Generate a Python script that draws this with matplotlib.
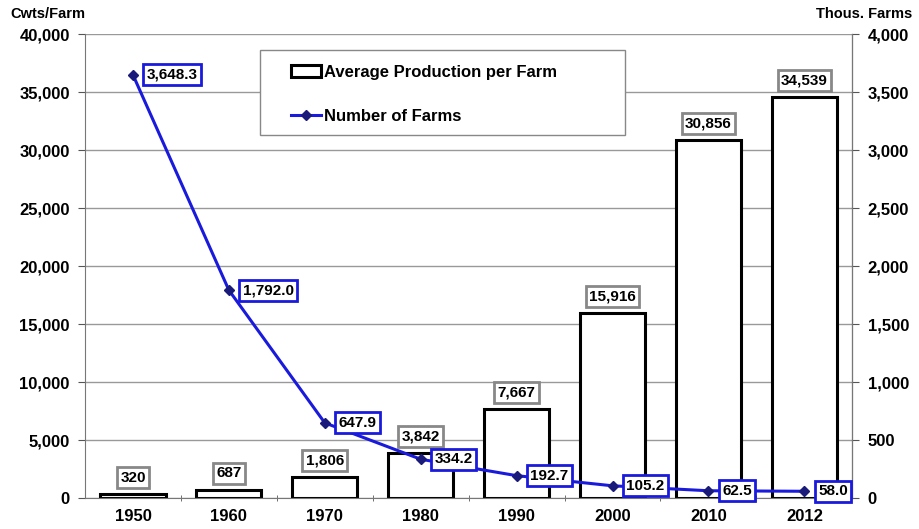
import matplotlib
matplotlib.use('Agg')
import matplotlib.pyplot as plt
import matplotlib.patches as mpatches
import numpy as np

plt.rcParams['font.family'] = ['Liberation Sans', 'DejaVu Sans']
plt.rcParams['font.weight'] = 'bold'

years = ['1950', '1960', '1970', '1980', '1990', '2000', '2010', '2012']
avg_production = [320, 687, 1806, 3842, 7667, 15916, 30856, 34539]
num_farms = [3648.3, 1792.0, 647.9, 334.2, 192.7, 105.2, 62.5, 58.0]

fig = plt.figure(figsize=(9.2, 5.29), dpi=100)
ax = fig.add_axes([0.0924, 0.0586, 0.834, 0.877])
ax2 = ax.twinx()

x = np.arange(len(years))
bars = ax.bar(x, avg_production, width=0.68, color='white', edgecolor='black',
              linewidth=2.2, zorder=2, label='Average Production per Farm')
ax.set_ylim(0, 40000)
ax.set_xlim(-0.5, len(years) - 0.5)
ax.set_yticks(np.arange(0, 40001, 5000))
ax.set_yticklabels([f'{v:,}' for v in range(0, 40001, 5000)], fontsize=12, fontweight='bold')
ax.set_xticks(x)
ax.set_xticklabels(years, fontsize=12, fontweight='bold')
ax.tick_params(axis='x', length=0, pad=8)
ax.set_xticks(np.arange(0.5, len(years) - 0.5, 1), minor=True)
ax.tick_params(axis='x', which='minor', length=5, color='#555555', direction='inout')
ax.tick_params(axis='y', length=5, color='#555555', pad=6)
ax.grid(axis='y', color='#999999', linewidth=1.0, zorder=0)
ax.set_axisbelow(True)
ax.spines['top'].set_visible(False)
ax2.spines['top'].set_visible(False)
for sp in [ax.spines['left'], ax.spines['bottom'], ax2.spines['right']]:
    sp.set_color('#777777')
ax2.spines['left'].set_visible(False)
ax2.spines['bottom'].set_visible(False)

for xi, v in zip(x, avg_production):
    ax.annotate(f'{v:,}', (xi, v), xytext=(0, 12), textcoords='offset points',
                ha='center', va='center', fontsize=11, fontweight='bold', zorder=5,
                bbox=dict(boxstyle='square,pad=0.22', fc='white', ec='#888888', lw=2))

ax2.set_ylim(0, 4000)
ax2.set_yticks(np.arange(0, 4001, 500))
ax2.set_yticklabels([f'{v:,}' for v in range(0, 4001, 500)], fontsize=12, fontweight='bold')
ax2.tick_params(axis='y', length=5, color='#555555', pad=6)
line, = ax2.plot(x, num_farms, color='#1a1adc', linewidth=2.2, marker='D', markersize=5,
                 markerfacecolor='#1a1a7a', markeredgecolor='#1a1a7a', zorder=4,
                 label='Number of Farms')
for xi, v in zip(x, num_farms):
    ax2.annotate(f'{v:,.1f}', (xi, v), xytext=(10, 0), textcoords='offset points',
                 ha='left', va='center', fontsize=11, fontweight='bold', zorder=6,
                 bbox=dict(boxstyle='square,pad=0.22', fc='white', ec='#1a1adc', lw=2))

# legend frame drawn separately so it can be sized like the original
frame = mpatches.Rectangle((260 / 920, 1 - 135 / 529), 365 / 920, 85 / 529,
                           transform=fig.transFigure, fc='white', ec='#888888',
                           lw=1.0, zorder=10)
fig.patches.append(frame)
leg = fig.legend(handles=[bars, line], loc='upper left',
                 bbox_to_anchor=(291 / 920, 1 - 65 / 529),
                 fontsize=12, frameon=False, borderpad=0, labelspacing=1.75,
                 handlelength=1.8, handletextpad=0.2, borderaxespad=0)
leg.set_zorder(11)
for t in leg.get_texts():
    t.set_fontweight('bold')

fig.text(10 / 920, 1 - 14 / 529, 'Cwts/Farm', fontsize=10.5, fontweight='bold',
         ha='left', va='center')
fig.text(912 / 920, 1 - 14 / 529, 'Thous. Farms', fontsize=10.5, fontweight='bold',
         ha='right', va='center')

fig.savefig('out.png', dpi=100)
